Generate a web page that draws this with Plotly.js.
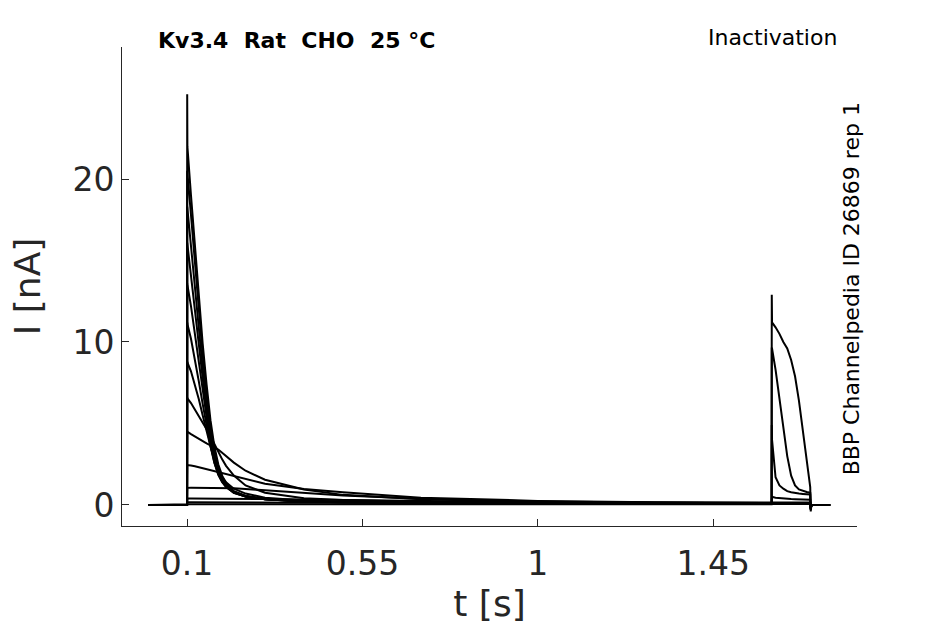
<!DOCTYPE html>
<html>
<head>
<meta charset="utf-8">
<script src="https://cdn.plot.ly/plotly-3.0.1.min.js"></script>
<style>
  body { margin: 0; background: #fff; }
  #plot { width: 945px; height: 624px; }
</style>
</head>
<body>
<div id="plot"></div>
<script>
// sample times [s], shared by every sweep
var t = [0, 0.0999, 0.1003, 0.1008, 0.11, 0.12, 0.13, 0.14, 0.15, 0.16, 0.17, 0.18, 0.19, 0.2, 0.22, 0.25, 0.3, 0.4, 0.5, 0.7, 1.0, 1.3, 1.5999,
         1.6003, 1.601, 1.61, 1.62, 1.63, 1.64, 1.65, 1.66, 1.67, 1.68, 1.69, 1.699, 1.7003, 1.702, 1.75];

// current [nA] for each sweep
// first pulse (0 .. 1.6 s), then test pulse (1.6 .. 1.7 s) and tail
var sweep1  = [0, 0, 25.2, 22.0, 19.0, 15.8, 12.8, 9.9, 7.4, 5.2, 3.6, 2.5, 1.8, 1.35, 0.85, 0.55, 0.36, 0.23, 0.18, 0.13, 0.1, 0.09, 0.08,
               0.08, 0.08, 0.08, 0.08, 0.08, 0.08, 0.08, 0.08, 0.08, 0.08, 0.08, 0.08, -0.2, 0, 0];
var sweep2  = [0, 0, 20.5, 20.4, 17.8, 14.8, 11.9, 9.2, 6.8, 4.8, 3.3, 2.3, 1.7, 1.3, 0.82, 0.54, 0.35, 0.23, 0.18, 0.13, 0.1, 0.09, 0.08,
               0.08, 0.08, 0.08, 0.08, 0.08, 0.08, 0.08, 0.08, 0.08, 0.08, 0.08, 0.08, -0.2, 0, 0];
var sweep3  = [0, 0, 18.3, 18.2, 15.9, 13.3, 10.8, 8.4, 6.2, 4.4, 3.0, 2.1, 1.55, 1.2, 0.78, 0.52, 0.35, 0.22, 0.17, 0.13, 0.1, 0.09, 0.08,
               0.08, 0.08, 0.08, 0.08, 0.08, 0.08, 0.08, 0.08, 0.08, 0.08, 0.08, 0.08, -0.2, 0, 0];
var sweep4  = [0, 0, 16.1, 16.0, 14.2, 12.0, 9.8, 7.7, 5.7, 4.0, 2.8, 1.95, 1.45, 1.12, 0.75, 0.52, 0.35, 0.22, 0.17, 0.13, 0.1, 0.09, 0.08,
               0.08, 0.08, 0.08, 0.08, 0.08, 0.08, 0.08, 0.08, 0.08, 0.08, 0.08, 0.08, -0.2, 0, 0];
var sweep5  = [0, 0, 13.6, 13.5, 12.2, 10.5, 8.7, 6.9, 5.2, 3.7, 2.6, 1.85, 1.4, 1.1, 0.75, 0.52, 0.35, 0.22, 0.17, 0.13, 0.1, 0.09, 0.08,
               0.08, 0.08, 0.08, 0.08, 0.08, 0.08, 0.08, 0.08, 0.08, 0.08, 0.08, 0.08, -0.2, 0, 0];
var sweep6  = [0, 0, 11.2, 11.1, 10.2, 9.0, 7.6, 6.2, 4.8, 3.6, 2.6, 1.9, 1.45, 1.15, 0.8, 0.55, 0.37, 0.23, 0.18, 0.13, 0.1, 0.09, 0.08,
               0.08, 0.08, 0.08, 0.08, 0.08, 0.08, 0.08, 0.08, 0.08, 0.08, 0.08, 0.08, -0.2, 0, 0];
var sweep7  = [0, 0, 8.8, 8.75, 8.2, 7.4, 6.5, 5.5, 4.5, 3.6, 2.8, 2.15, 1.7, 1.4, 1.0, 0.7, 0.45, 0.28, 0.2, 0.15, 0.12, 0.1, 0.08,
               0.08, 0.08, 0.08, 0.08, 0.08, 0.08, 0.08, 0.08, 0.08, 0.08, 0.08, 0.08, -0.2, 0, 0];
var sweep8  = [0, 0, 6.6, 6.55, 6.25, 5.85, 5.45, 5.05, 4.65, 4.25, 3.75, 3.25, 2.8, 2.4, 1.8, 1.2, 0.75, 0.42, 0.3, 0.2, 0.14, 0.11, 0.09,
               0.09, 0.09, 0.09, 0.09, 0.09, 0.09, 0.09, 0.09, 0.09, 0.09, 0.09, 0.09, -0.2, 0, 0];
var sweep9  = [0, 0, 4.5, 4.5, 4.35, 4.2, 4.05, 3.9, 3.78, 3.66, 3.55, 3.4, 3.2, 3.0, 2.6, 2.1, 1.55, 0.95, 0.62, 0.35, 0.2, 0.14, 0.1,
               0.1, 0.1, 0.1, 0.1, 0.1, 0.1, 0.1, 0.1, 0.1, 0.1, 0.1, 0.1, -0.2, 0, 0];
var sweep10 = [0, 0, 2.45, 2.45, 2.42, 2.38, 2.32, 2.26, 2.2, 2.14, 2.08, 2.02, 1.96, 1.9, 1.78, 1.6, 1.3, 0.98, 0.78, 0.45, 0.25, 0.16, 0.12,
               0.13, 0.15, 0.15, 0.15, 0.15, 0.15, 0.15, 0.15, 0.15, 0.15, 0.15, 0.15, -0.2, 0, 0];
var sweep11 = [0, 0, 1.0, 1.05, 1.06, 1.06, 1.06, 1.05, 1.05, 1.05, 1.04, 1.04, 1.03, 1.03, 1.02, 0.98, 0.9, 0.72, 0.58, 0.38, 0.22, 0.15, 0.12,
               0.3, 0.5, 0.45, 0.42, 0.4, 0.38, 0.36, 0.35, 0.34, 0.33, 0.32, 0.32, -0.25, 0, 0];
var sweep12 = [0, 0, 0.3, 0.4, 0.4, 0.4, 0.4, 0.4, 0.4, 0.4, 0.39, 0.39, 0.39, 0.38, 0.38, 0.37, 0.36, 0.33, 0.3, 0.24, 0.17, 0.13, 0.1,
               4.9, 4.0, 1.7, 1.2, 1.0, 0.85, 0.78, 0.73, 0.7, 0.68, 0.66, 0.65, -0.3, 0, 0];
var sweep13 = [0, 0, 0.12, 0.16, 0.16, 0.16, 0.16, 0.16, 0.16, 0.16, 0.16, 0.16, 0.16, 0.16, 0.16, 0.15, 0.15, 0.14, 0.13, 0.12, 0.1, 0.09, 0.08,
               9.6, 9.6, 8.3, 6.6, 4.8, 3.0, 1.8, 1.2, 0.95, 0.85, 0.8, 0.75, -0.3, 0, 0];
var sweep14 = [0, 0, 0.04, 0.05, 0.05, 0.05, 0.05, 0.05, 0.05, 0.05, 0.05, 0.05, 0.05, 0.05, 0.05, 0.05, 0.05, 0.05, 0.05, 0.05, 0.05, 0.05, 0.05,
               12.9, 11.2, 10.9, 10.5, 10.0, 9.6, 8.9, 7.9, 6.4, 4.5, 2.5, 1.1, -0.4, 0, 0];

var sweeps = [sweep1, sweep2, sweep3, sweep4, sweep5, sweep6, sweep7, sweep8, sweep9, sweep10, sweep11, sweep12, sweep13, sweep14];

var xTicks = [0.1, 0.55, 1, 1.45];
var xTickText = ['0.1', '0.55', '1', '1.45'];
var yTicks = [0, 10, 20];
var yTickText = ['0', '10', '20'];

var axisColor = '#262626';
var fontName = 'DejaVu Sans, sans-serif';

var data = [];
sweeps.forEach(function(s) {
  data.push({
    x: t,
    y: s,
    type: 'scatter',
    mode: 'lines',
    line: { color: 'black', width: 2 },
    hoverinfo: 'skip'
  });
});

var layout = {
  width: 945,
  height: 624,
  margin: { l: 122, r: 88, t: 47, b: 98 },
  paper_bgcolor: 'white',
  plot_bgcolor: 'white',
  showlegend: false,
  font: { family: fontName, color: axisColor },
  xaxis: {
    range: [-0.067, 1.819],
    showline: true,
    linecolor: axisColor,
    linewidth: 1,
    showgrid: false,
    zeroline: false,
    ticks: 'inside',
    ticklen: 7,
    tickcolor: axisColor,
    tickvals: xTicks,
    ticktext: xTickText,
    ticklabelstandoff: 8,
    tickfont: { size: 33, family: fontName, color: axisColor },
    title: { text: 't [s]', font: { size: 36, family: fontName, color: axisColor }, standoff: 12 }
  },
  yaxis: {
    range: [-1.29, 28.1],
    showline: true,
    linecolor: axisColor,
    linewidth: 1,
    showgrid: false,
    zeroline: false,
    ticks: 'inside',
    ticklen: 7,
    tickcolor: axisColor,
    tickvals: yTicks,
    ticktext: yTickText,
    tickfont: { size: 33, family: fontName, color: axisColor },
    title: { text: 'I [nA]', font: { size: 36, family: fontName, color: axisColor }, standoff: 20 }
  },
  annotations: [
    {
      xref: 'paper', yref: 'paper',
      x: 0.046, y: 1.0146,
      xanchor: 'left', yanchor: 'middle',
      text: '<b>Kv3.4  Rat  CHO  25 °C</b>',
      font: { size: 22, family: fontName, color: 'black' },
      showarrow: false
    },
    {
      xref: 'paper', yref: 'paper',
      x: 0.976, y: 1.0188,
      xanchor: 'right', yanchor: 'middle',
      text: 'Inactivation',
      font: { size: 22, family: fontName, color: 'black' },
      showarrow: false
    },
    {
      xref: 'paper', yref: 'paper',
      x: 0.993, y: 0.4958,
      xanchor: 'center', yanchor: 'middle',
      textangle: -90,
      text: 'BBP Channelpedia ID 26869 rep 1',
      font: { size: 22, family: fontName, color: 'black' },
      showarrow: false
    }
  ]
};

Plotly.newPlot('plot', data, layout, { staticPlot: true });
</script>
</body>
</html>
